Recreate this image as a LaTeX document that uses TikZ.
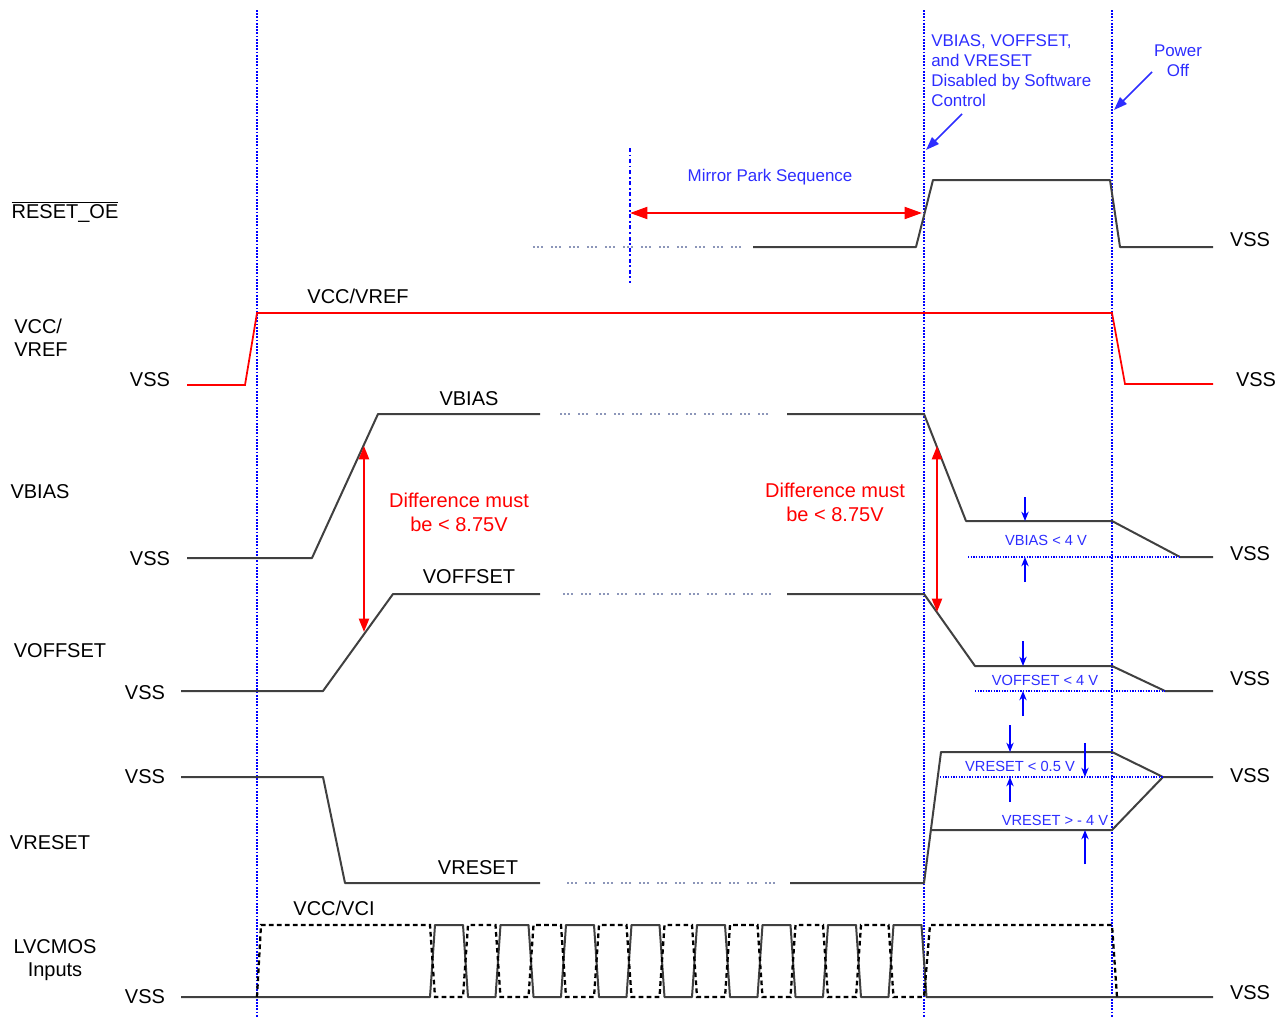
\documentclass[tikz,border=0pt]{standalone}
\usepackage{fontspec}
\setmainfont{Liberation Sans}
\usetikzlibrary{arrows.meta}
\definecolor{sigline}{RGB}{64, 64, 64}
\definecolor{annblue}{RGB}{45, 45, 255}
\definecolor{markred}{RGB}{255, 0, 0}
\definecolor{gapdot}{RGB}{140, 150, 185}

\tikzset{
  sig/.style = {draw = sigline, line width = 1.5pt, line join = round},
  vccsig/.style = {draw = markred, line width = 1.3pt},
  gapline/.style = {draw = gapdot, line width = 1.5pt,
    dash pattern = on 1.5pt off 1.5pt on 1.5pt off 1.5pt on 1.5pt off 6pt},
  clkdash/.style = {draw = black, line width = 1.7pt, dash pattern = on 3.5pt off 2.5pt},
  marker/.style = {draw = blue, line width = 1.4pt, densely dotted},
  levelmark/.style = {draw = blue, line width = 1pt, densely dotted},
  lbl/.style = {font = \fontsize{15}{17}\selectfont, text = black, inner sep = 0pt},
  redlbl/.style = {font = \fontsize{15}{18}\selectfont, text = markred, inner sep = 0pt, align = center},
  bluelbl/.style = {font = \fontsize{12.7}{15}\selectfont, text = annblue, inner sep = 0pt},
  smallblue/.style = {font = \fontsize{11}{12}\selectfont, text = annblue, inner sep = 0pt},
  diffarrow/.style = {draw = markred, line width = 1.6pt,
    {Triangle[length = 10pt, width = 7.5pt]}-{Triangle[length = 10pt, width = 7.5pt]}},
  parkarrow/.style = {draw = markred, line width = 1.4pt,
    {Triangle[length = 13pt, width = 9pt]}-{Triangle[length = 13pt, width = 9pt]}},
  notearrow/.style = {draw = annblue, line width = 1.3pt, -{Triangle[length = 10pt, width = 7pt]}},
  tickarrow/.style = {draw = blue, line width = 1pt, -{Stealth[length = 7pt, width = 5.5pt]}}
}

\begin{document}
\begin{tikzpicture}[x = 0.75pt, y = -0.75pt]
  \useasboundingbox (0,0) rectangle (1286,1017);

  % time markers
  \draw[marker] (257,10) -- (257,1017);
  \draw[marker] (924,10) -- (924,1017);
  \draw[marker] (1112,10) -- (1112,1017);
  \draw[draw = blue, line width = 1.3pt, dash dot] (630,148) -- (630,283);

  % signal names on the left
  \node[lbl] (nreset) at (65,212) {$\overline{\mbox{RESET\_OE}}$};
  \node[lbl, anchor = west, align = left] (nvcc) at (14,338) {VCC/\\VREF};
  \node[lbl] (nvbias) at (40,492) {VBIAS};
  \node[lbl] (nvoff) at (60,651) {VOFFSET};
  \node[lbl] (nvres) at (50,843) {VRESET};
  \node[lbl, align = center] (nlvc) at (55,960) {LVCMOS\\Inputs};

  % VSS levels
  \node[lbl] (vssA) at (150,380) {VSS};
  \node[lbl] (vssB) at (150,559) {VSS};
  \node[lbl] (vssC) at (145,693) {VSS};
  \node[lbl] (vssD) at (145,777) {VSS};
  \node[lbl] (vssE) at (145,997) {VSS};
  \node[lbl] (vssR1) at (1250,240) {VSS};
  \node[lbl] (vssR2) at (1256,380) {VSS};
  \node[lbl] (vssR3) at (1250,554) {VSS};
  \node[lbl] (vssR4) at (1250,679) {VSS};
  \node[lbl] (vssR5) at (1250,776) {VSS};
  \node[lbl] (vssR6) at (1250,993) {VSS};

  % level names on the waveforms
  \node[lbl] (tvcc) at (358,296) {VCC/VREF};
  \node[lbl] (tvbias) at (469,399) {VBIAS};
  \node[lbl] (tvoff) at (469,577) {VOFFSET};
  \node[lbl] (tvres) at (478,868) {VRESET};
  \node[lbl] (tvci) at (334,908) {VCC/VCI};

  % RESET_OE
  \draw[gapline] (533,247) -- (747,247);
  \draw[sig] (753,247) -- (916,247) -- (933,180) -- (1110,180) -- (1120,247) -- (1213,247);

  % VCC/VREF
  \draw[vccsig] (187,385) -- (245,385) -- (257,313) -- (1112,313) -- (1125,384) -- (1213,384);

  % VBIAS
  \draw[sig] (187,558) -- (312,558) -- (378,414) -- (540,414);
  \draw[gapline] (560,414) -- (775,414);
  \draw[sig] (787,414) -- (924,414) -- (966,521) -- (1112,521) -- (1180,557) -- (1213,557);

  % VOFFSET
  \draw[sig] (181,691) -- (323,691) -- (393,594) -- (540,594);
  \draw[gapline] (563,594) -- (777,594);
  \draw[sig] (787,594) -- (924,594) -- (975,666) -- (1112,666) -- (1165,691) -- (1213,691);

  % VRESET
  \draw[sig] (181,777) -- (323,777) -- (345,883) -- (540,883);
  \draw[gapline] (567,883) -- (783,883);
  \draw[sig] (790,883) -- (924,883) -- (941,752) -- (1112,752) -- (1163,777) -- (1213,777);
  \draw[sig] (931,830) -- (1112,830) -- (1163,777);

  % LVCMOS inputs
  \draw[sig] (181,997) -- (430,997)
    \foreach \k in {0,...,7} {
      -- ({430+65.5*\k+5},925) -- ({430+65.5*\k+33},925)
      -- ({430+65.5*\k+38},997) -- ({430+65.5*(\k+1)},997)
    } -- (1213,997);
  \draw[clkdash] (257,997) -- (261,925) -- (430,925)
    \foreach \k in {0,...,6} {
      -- ({430+65.5*\k+5},997) -- ({430+65.5*\k+33},997)
      -- ({430+65.5*\k+38},925) -- ({430+65.5*(\k+1)},925)
    } -- (893.5,997) -- (924,997) -- (930,925) -- (1112,925) -- (1117,997);

  % mirror park sequence
  \node[bluelbl] (park) at (770,177) {Mirror Park Sequence};
  \coordinate (parkL) at (630,213);
  \coordinate (parkR) at (922,213);
  \draw[parkarrow] (parkL) -- (parkR);

  % difference limits
  \node[redlbl] (diffA) at (459,512) {Difference must\\be < 8.75V};
  \node[redlbl] (diffB) at (835,502) {Difference must\\be < 8.75V};
  \coordinate (dAt) at (364,446);
  \coordinate (dAb) at (364,632);
  \coordinate (dBt) at (937,446);
  \coordinate (dBb) at (937,612);
  \draw[diffarrow] (dAt) -- (dAb);
  \draw[diffarrow] (dBt) -- (dBb);

  % notes at the top
  \node[bluelbl, anchor = north west, align = left] (swnote) at (931,34)
    {VBIAS, VOFFSET,\\and VRESET\\Disabled by Software\\Control};
  \node[bluelbl, align = center] (offnote) at (1178,61) {Power\\Off};
  \coordinate (swtip) at (926,150);
  \coordinate (offtip) at (1114,110);
  \draw[notearrow] (962,114) -- (swtip);
  \draw[notearrow] (1152,72) -- (offtip);

  % power-off limits
  \draw[levelmark] (968,557) -- (1180,557);
  \draw[levelmark] (975,691) -- (1165,691);
  \draw[levelmark] (940,777) -- (1163,777);
  \node[smallblue] (limbias) at (1046,540) {VBIAS < 4 V};
  \node[smallblue] (limoff) at (1045,680) {VOFFSET < 4 V};
  \node[smallblue] (limresA) at (1020,766) {VRESET < 0.5 V};
  \node[smallblue] (limresB) at (1055,820) {VRESET > - 4 V};
  \draw[tickarrow] (1025,497) -- (1025,521);
  \draw[tickarrow] (1025,582) -- (1025,557);
  \draw[tickarrow] (1023,641) -- (1023,666);
  \draw[tickarrow] (1023,716) -- (1023,691);
  \draw[tickarrow] (1010,725) -- (1010,752);
  \draw[tickarrow] (1010,802) -- (1010,777);
  \draw[tickarrow] (1085,743) -- (1085,777);
  \draw[tickarrow] (1085,864) -- (1085,830);
\end{tikzpicture}
\end{document}
